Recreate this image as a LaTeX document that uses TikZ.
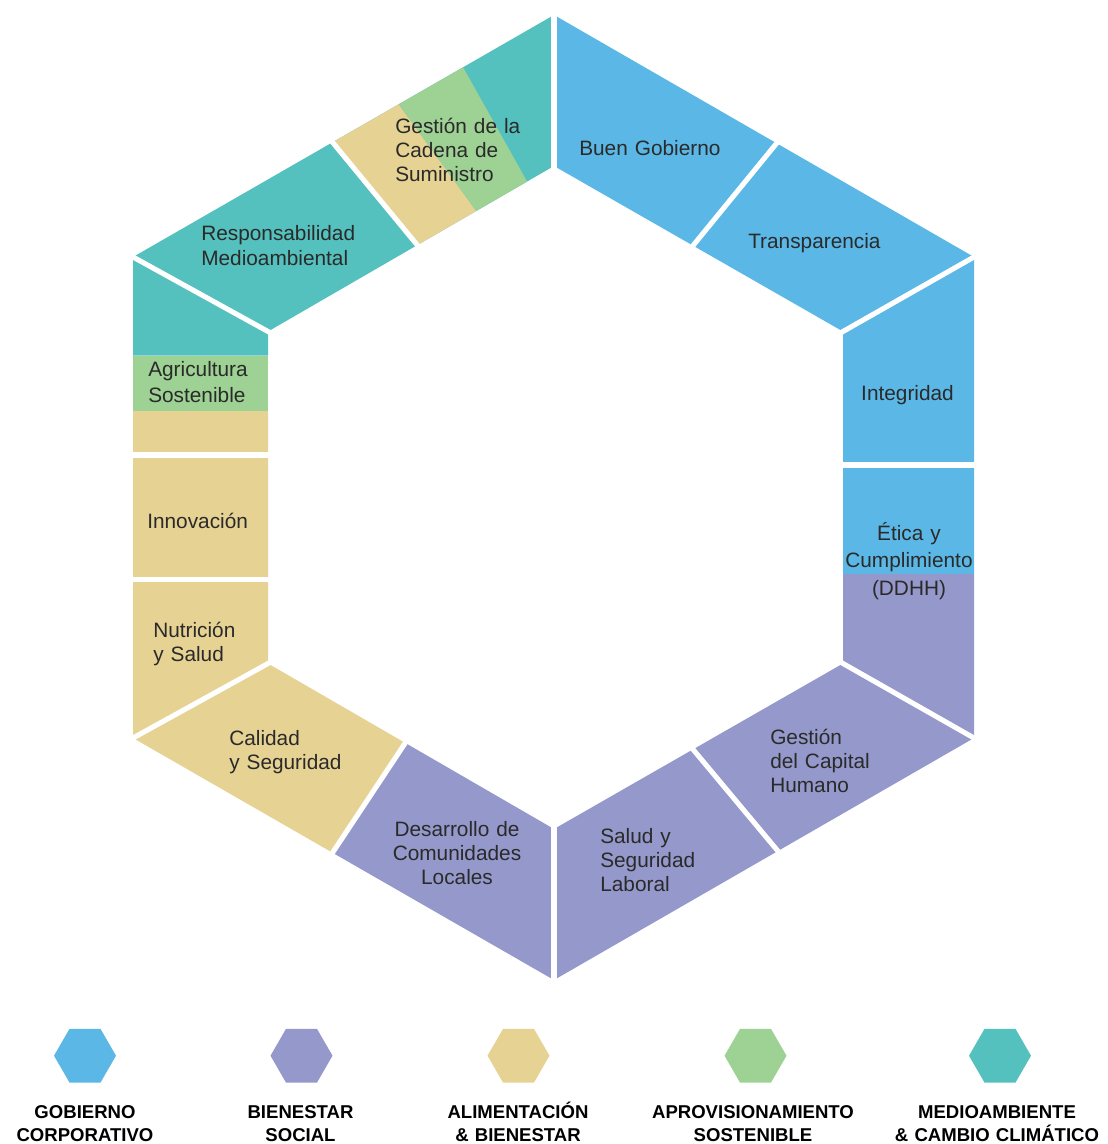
\documentclass[tikz,border=0pt]{standalone}
\usepackage{fontspec}
\setmainfont{Liberation Sans}
\usepackage{xcolor}
\usepackage{tikz}
\usetikzlibrary{
    calc,
    shapes.geometric
}
\definecolor{gobierno}{HTML}{5BB8E6}
\definecolor{bienestar}{HTML}{9598CA}
\definecolor{alimentacion}{HTML}{E6D394}
\definecolor{aprovision}{HTML}{9ED194}
\definecolor{medioambiente}{HTML}{54C1BE}
\definecolor{texto}{HTML}{2A2A2A}
\tikzset{
  tema/.style = {
      font=\fontsize{14.8}{17.2}\selectfont,
      text=texto,
      inner sep=0pt,
      text width=4.5cm,
      align=left,
      anchor=base west
  },
  tema centro/.style = {
      tema,
      align=center,
      anchor=base
  },
  corte/.style = {
      draw=white,
      line width=3.6pt,
      shorten <=-4pt,
      shorten >=-4pt
  },
  hexa/.style = {
      regular polygon,
      regular polygon sides=6,
      minimum size=1.55cm,
      inner sep=0pt,
      draw=none
  },
  leyenda/.style = {
      font=\bfseries\fontsize{13.2}{16.2}\selectfont,
      text=black,
      inner sep=0pt,
      text width=6cm,
      align=center,
      anchor=base
  }
}

\begin{document}
\begin{tikzpicture}[x=0.025cm, y=-0.025cm]
        \useasboundingbox (0,0) rectangle (1108,1144);
        % Vertices
        \coordinate (o1) at (554,15);
        \coordinate (o2) at (974,257);
        \coordinate (o3) at (974,738);
        \coordinate (o4) at (554,980);
        \coordinate (o5) at (133,738);
        \coordinate (o6) at (133,257);
        \coordinate (i1) at (554,166);
        \coordinate (i2) at (843,331.5);
        \coordinate (i3) at (843,663.5);
        \coordinate (i4) at (554,829);
        \coordinate (i5) at (268,663.5);
        \coordinate (i6) at (268,331.5);
        \coordinate (eo) at (974,574);
        \coordinate (ei) at (843,574);
        \coordinate (ao) at (133,411);
        \coordinate (ai) at (268,411);
        \coordinate (bo) at (133,355.7);
        \coordinate (bi) at (268,355.7);
        \coordinate (do) at ($(o4)!0.526!(o5)$);
        \coordinate (di) at ($(i4)!0.520!(i5)$);
        % Colours
        \fill[gobierno] (o1) -- (o2) -- (eo) -- (ei) -- (i2) -- (i1) -- cycle;
        \fill[bienestar] (eo) -- (o3) -- (o4) -- (do) -- (di) -- (i4) -- (i3) -- (ei) -- cycle;
        \fill[alimentacion] (do) -- (o5) -- (ao) -- (ai) -- (i5) -- (di) -- cycle;
        \fill[aprovision] (ao) -- (bo) -- (bi) -- (ai) -- cycle;
        \fill[medioambiente] (bo) -- (o6) -- (o1) -- (i1) -- (i6) -- (bi) -- cycle;
        \fill[alimentacion] ($(o6)!0.474!(o1)$) -- ($(o6)!0.631!(o1)$)
            -- ($(i6)!0.728!(i1)$) -- ($(i6)!0.522!(i1)$) -- cycle;
        \fill[aprovision] ($(o6)!0.631!(o1)$) -- ($(o6)!0.784!(o1)$)
            -- ($(i6)!0.906!(i1)$) -- ($(i6)!0.728!(i1)$) -- cycle;
        % Cuts
        \draw[corte] (o1) -- (i1);
        \draw[corte] (o2) -- (i2);
        \draw[corte] (o3) -- (i3);
        \draw[corte] (o4) -- (i4);
        \draw[corte] (o5) -- (i5);
        \draw[corte] (o6) -- (i6);
        \draw[corte] ($(o1)!0.530!(o2)$) -- ($(i1)!0.481!(i2)$);
        \draw[corte] (974,465) -- (843,465);
        \draw[corte] ($(o4)!0.533!(o3)$) -- ($(i4)!0.481!(i3)$);
        \draw[corte] (do) -- (di);
        \draw[corte] (133,579.5) -- (268,579.5);
        \draw[corte] (133,455) -- (268,455);
        \draw[corte] ($(o6)!0.474!(o1)$) -- ($(i6)!0.522!(i1)$);
        % Topics
        \node[tema] (cadena) at (395,133) {Gestión de la\\Cadena de\\Suministro};
        \node[tema] (buen) at (579,155) {Buen Gobierno};
        \node[tema] (transp) at (748,248) {Transparencia};
        \node[tema centro] (integ) at (907.5,400) {Integridad};
        \node[tema centro, font=\fontsize{14.8}{19.6}\selectfont] (etica) at (909,540) {Ética y\\Cumplimiento\\(DDHH)};
        \node[tema] (capital) at (770,744) {Gestión\\del Capital\\Humano};
        \node[tema] (laboral) at (600,843) {Salud y\\Seguridad\\Laboral};
        \node[tema centro] (desarr) at (457,836) {Desarrollo de\\Comunidades\\Locales};
        \node[tema] (calidad) at (229,745) {Calidad\\y Seguridad};
        \node[tema] (nutri) at (153,637) {Nutrición\\y Salud};
        \node[tema] (innov) at (147,528) {Innovación};
        \node[tema, font=\fontsize{14.8}{19}\selectfont] (agri) at (148,376) {Agricultura\\Sostenible};
        \node[tema, font=\fontsize{14.8}{18.3}\selectfont] (respons) at (201,240) {Responsabilidad\\Medioambiental};
        % Legend
        \node[hexa, fill=gobierno] (hgob) at (85,1055.7) {};
        \node[hexa, fill=bienestar] (hbien) at (301.5,1055.7) {};
        \node[hexa, fill=alimentacion] (hali) at (518.5,1055.7) {};
        \node[hexa, fill=aprovision] (hapro) at (755.5,1055.7) {};
        \node[hexa, fill=medioambiente] (hmed) at (1000,1055.7) {};
        \node[leyenda] (lgob) at (85,1118.7) {GOBIERNO\\CORPORATIVO};
        \node[leyenda] (lbien) at (300.5,1118.7) {BIENESTAR\\SOCIAL};
        \node[leyenda] (lali) at (518,1118.7) {ALIMENTACIÓN\\\& BIENESTAR};
        \node[leyenda] (lapro) at (753,1118.7) {APROVISIONAMIENTO\\SOSTENIBLE};
        \node[leyenda] (lmed) at (997,1118.7) {MEDIOAMBIENTE\\\& CAMBIO CLIMÁTICO};
    \end{tikzpicture}
\end{document}
